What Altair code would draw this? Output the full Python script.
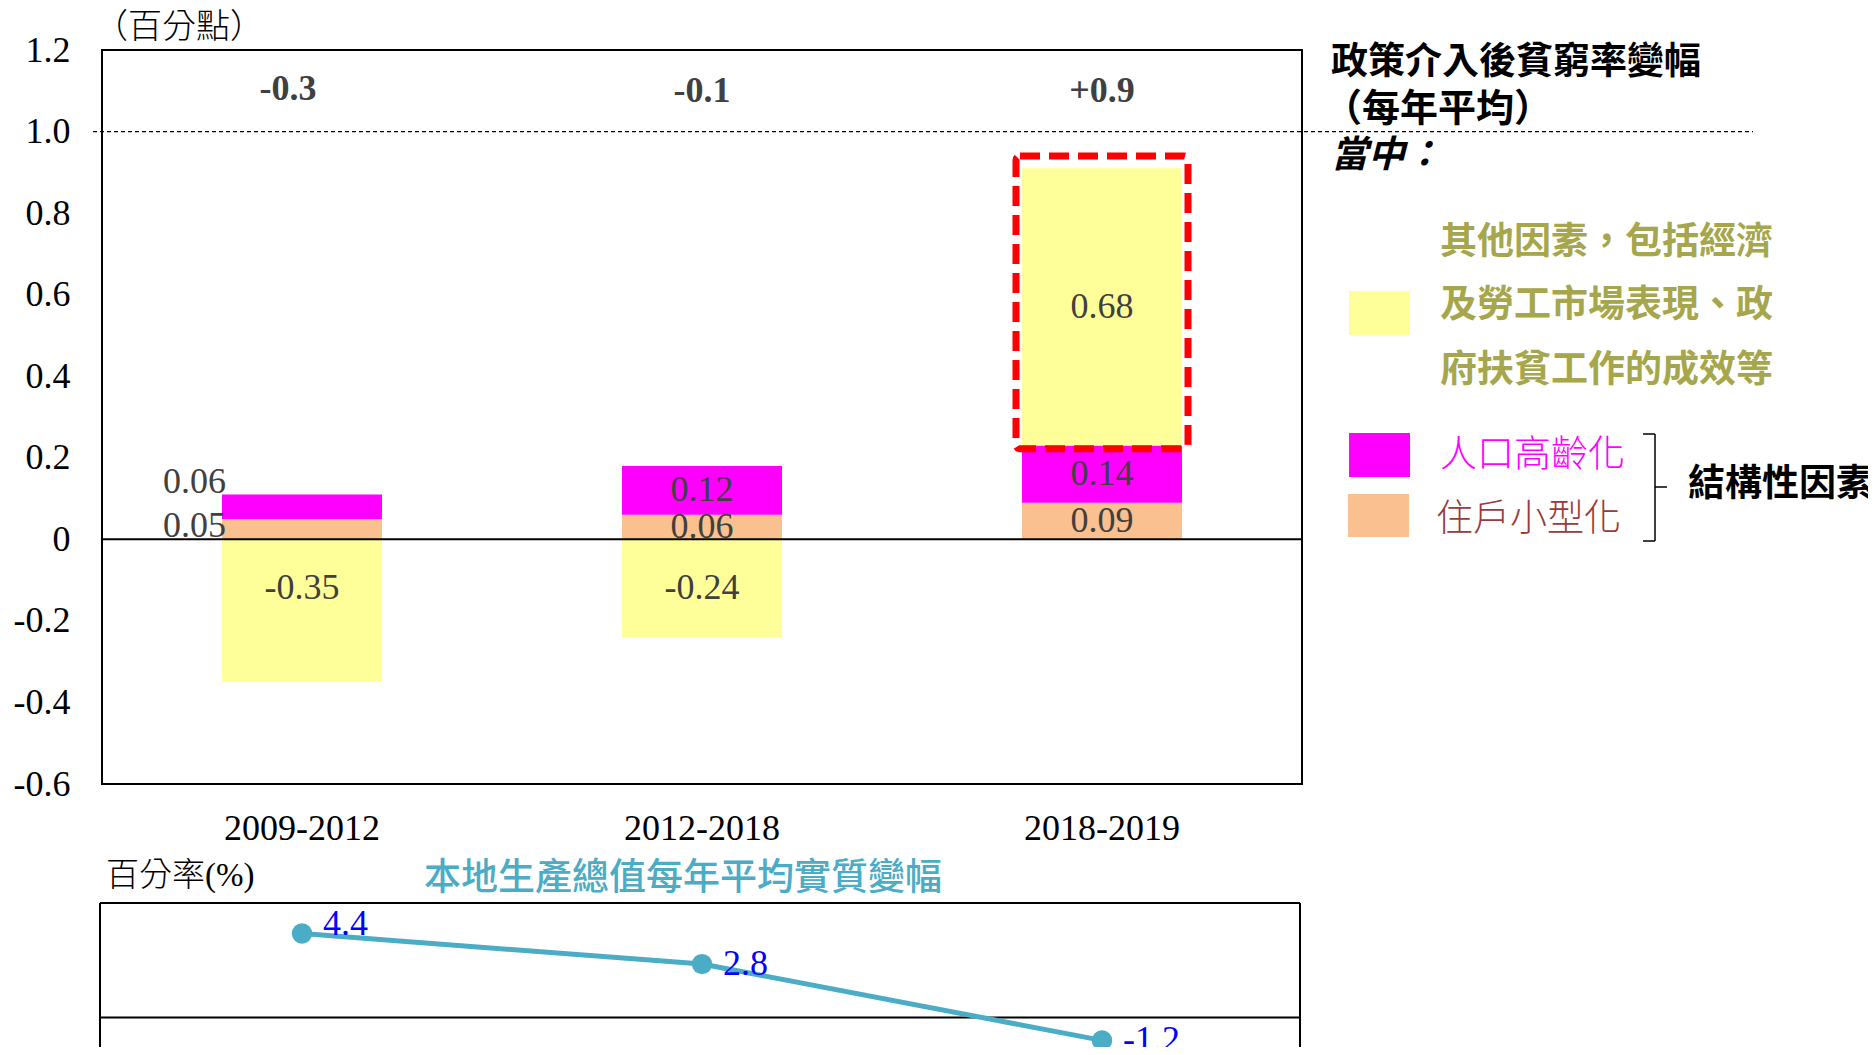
import altair as alt
import pandas as pd

# ---------------- data ----------------
categories = ["2009-2012", "2012-2018", "2018-2019"]
series_names = ["住戶小型化", "人口高齡化", "其他因素"]
household_shrinking = [0.05, 0.06, 0.09]
population_ageing = [0.06, 0.12, 0.14]
other_factors = [-0.35, -0.24, 0.68]
total_change_labels = ["-0.3", "-0.1", "+0.9"]
gdp_growth = [4.4, 2.8, -1.2]
y_ticks = [-0.6, -0.4, -0.2, 0.0, 0.2, 0.4, 0.6, 0.8, 1.0, 1.2]

legend_title_lines = ["政策介入後貧窮率變幅", "（每年平均）"]
legend_among = "當中："
other_legend_lines = ["其他因素，包括經濟", "及勞工市場表現、政", "府扶貧工作的成效等"]
structural_label = "結構性因素"
y_unit = "（百分點）"
gdp_unit = "百分率(%)"
gdp_title = "本地生產總值每年平均實質變幅"

# ---------------- styles ----------------
series_colors = ["#FAC090", "#FF00FF", "#FFFF99"]
OLIVE = "#A6A64C"
BROWN = "#9A3B3B"
TEAL = "#4BACC6"
LABEL_GRAY = "#404040"
SERIF = "Liberation Serif"
CJK = "Noto Sans CJK TC"
MIXED = "Liberation Serif, Noto Sans CJK TC"

W, H = 1200, 734

# ---------------- tables ----------------
rows = []
for i, c in enumerate(categories):
    pos, neg = 0.0, 0.0
    for k, vals in enumerate([household_shrinking, population_ageing, other_factors]):
        v = vals[i]
        if v >= 0:
            y0, y1 = pos, pos + v
            pos = y1
        else:
            y0, y1 = neg, neg + v
            neg = y1
        mid = (y0 + y1) / 2
        if v < 0:
            mid = max(mid, -0.12)
        rows.append(dict(category=c, series=series_names[k], order=k, value=v,
                         y0=y0, y1=y1, ly=mid, label=f"{v:.2f}",
                         outside=int(i == 0 and v > 0)))
stack_df = pd.DataFrame(rows)
totals_df = pd.DataFrame({"category": categories, "label": total_change_labels,
                          "idx": list(range(len(categories)))})
gdp_df = pd.DataFrame({"category": categories, "gdp": gdp_growth,
                       "label": [f"{g:.1f}" for g in gdp_growth],
                       "idx": list(range(len(categories)))})
one = pd.DataFrame({"a": [0]})

x_enc = alt.X(
    "category:N", sort=categories,
    scale=alt.Scale(domain=categories, paddingInner=0.6, paddingOuter=0.3),
    axis=alt.Axis(title=None, labelAngle=0, labelFont=SERIF, labelFontSize=36,
                  labelColor="black", ticks=False, domain=False,
                  labelPadding=44, labelBaseline="middle"),
)
main_scale = alt.Scale(domain=[-0.6, 1.2], nice=False, zero=False)
gdp_scale = alt.Scale(domain=[-6, 6], range=[1082, 853], nice=False, zero=False)
y_axis = alt.Axis(
    values=y_ticks, title=None, grid=False, ticks=False, domain=False,
    labelFont=SERIF, labelFontSize=36, labelColor="black", labelPadding=32,
    labelExpr="datum.value == 0 ? '0' : (datum.value < 0 ? '-' : '') + format(abs(datum.value), '.1f')",
)


def ym(field):
    return alt.Y(field, scale=main_scale, axis=None)


def yg(field):
    return alt.Y(field, scale=gdp_scale, axis=None)


bars = alt.Chart(stack_df).mark_bar().encode(
    x=x_enc,
    y=alt.Y("y0:Q", scale=main_scale, axis=y_axis),
    y2="y1:Q",
    color=alt.Color("series:N", scale=alt.Scale(domain=series_names, range=series_colors), legend=None),
)

inside_labels = alt.Chart(stack_df).transform_filter("datum.outside == 0").mark_text(
    font=SERIF, fontSize=36, color=LABEL_GRAY, baseline="middle"
).encode(x=x_enc, y=ym("ly:Q"), text="label:N")

outside_low = alt.Chart(stack_df).transform_filter("datum.outside == 1 && datum.order == 0").mark_text(
    font=SERIF, fontSize=36, color=LABEL_GRAY, baseline="middle", align="right", dx=-76, dy=-3
).encode(x=x_enc, y=ym("ly:Q"), text="label:N")

outside_high = alt.Chart(stack_df).transform_filter("datum.outside == 1 && datum.order == 1").mark_text(
    font=SERIF, fontSize=36, color=LABEL_GRAY, baseline="middle", align="right", dx=-76, dy=-25
).encode(x=x_enc, y=ym("ly:Q"), text="label:N")

highlight = alt.Chart(stack_df).transform_filter(
    f"datum.category == '{categories[2]}' && datum.order == 2"
).transform_calculate(lo="datum.y0 - 0.008", hi="datum.y1 + 0.03").mark_bar(
    size=172, fillOpacity=0, stroke="#FF0000", strokeWidth=7, strokeDash=[20, 9], cornerRadius=4
).encode(x=x_enc, y=ym("lo:Q"), y2="hi:Q")

totals_first = alt.Chart(totals_df).transform_filter("datum.idx == 0").transform_calculate(ty="1.1").mark_text(
    font=SERIF, fontSize=36, fontWeight="bold", color=LABEL_GRAY, baseline="middle", dx=-14, dy=-2
).encode(x=x_enc, y=ym("ty:Q"), text="label:N")
totals_rest = alt.Chart(totals_df).transform_filter("datum.idx > 0").transform_calculate(ty="1.1").mark_text(
    font=SERIF, fontSize=36, fontWeight="bold", color=LABEL_GRAY, baseline="middle"
).encode(x=x_enc, y=ym("ty:Q"), text="label:N")

ref_line = alt.Chart(one).transform_calculate(ry="1.0").mark_rule(
    strokeDash=[4, 3], strokeWidth=1.2, color="black"
).encode(y=ym("ry:Q"), x=alt.value(-9), x2=alt.value(1651))
zero_line = alt.Chart(one).transform_calculate(ry="0").mark_rule(strokeWidth=2, color="black").encode(
    y=ym("ry:Q"), x=alt.value(0), x2=alt.value(W))


def txt(text, x, y, size=37, color="black", weight="normal", style="normal", font=CJK, align="left"):
    return alt.Chart(one).mark_text(
        text=text, font=font, fontSize=size, color=color, fontWeight=weight,
        fontStyle=style, align=align, baseline="middle"
    ).encode(x=alt.value(x), y=alt.value(y))


def box(x, x2, y, y2, color):
    return alt.Chart(one).mark_rect(color=color).encode(
        x=alt.value(x), x2=alt.value(x2), y=alt.value(y), y2=alt.value(y2))


def seg(x, x2, y, y2, width=1.5):
    return alt.Chart(one).mark_rule(color="black", strokeWidth=width).encode(
        x=alt.value(x), x2=alt.value(x2), y=alt.value(y), y2=alt.value(y2))


annotations = [
    txt(y_unit, -8, -22, size=34, weight=300, font=CJK),
    txt(legend_title_lines[0], 1229, 13, weight="bold"),
    txt(legend_title_lines[1], 1222, 60, weight="bold", size=38),
    txt(legend_among, 1229, 106, weight="bold", style="italic"),
    txt(other_legend_lines[0], 1338, 193, color=OLIVE, weight="bold"),
    txt(other_legend_lines[1], 1338, 256, color=OLIVE, weight="bold"),
    txt(other_legend_lines[2], 1338, 321, color=OLIVE, weight="bold"),
    box(1247, 1308, 241, 285, series_colors[2]),
    box(1247, 1308, 383, 427, series_colors[1]),
    box(1246, 1307, 444, 487, series_colors[0]),
    txt(series_names[1], 1338, 406, color=series_colors[1], weight=300),
    txt(series_names[0], 1334, 470, color=BROWN, weight=300),
    seg(1541, 1553, 384, 384),
    seg(1553, 1553, 384, 491),
    seg(1541, 1553, 491, 491),
    seg(1553, 1565, 437, 437),
    txt(structural_label, 1586, 435, weight="bold"),
    txt(gdp_unit, 4, 826, size=33, font=MIXED, weight=300),
    txt(gdp_title, 322, 829, size=37, color=TEAL, weight=500),
]

# ---------------- lower GDP panel ----------------
gdp_top = alt.Chart(one).transform_calculate(gy="6").mark_rule(color="black", strokeWidth=2).encode(
    x=alt.value(-2), x2=alt.value(W - 2), y=yg("gy:Q"))
gdp_zero = alt.Chart(one).transform_calculate(gy="0").mark_rule(color="black", strokeWidth=2).encode(
    x=alt.value(-2), x2=alt.value(W - 2), y=yg("gy:Q"))
gdp_left = alt.Chart(one).transform_calculate(gy="6", gy2="-6").mark_rule(color="black", strokeWidth=2).encode(
    x=alt.value(-2), y=yg("gy:Q"), y2="gy2:Q")
gdp_right = alt.Chart(one).transform_calculate(gy="6", gy2="-6").mark_rule(color="black", strokeWidth=2).encode(
    x=alt.value(W - 2), y=yg("gy:Q"), y2="gy2:Q")
gdp_line = alt.Chart(gdp_df).mark_line(color=TEAL, strokeWidth=5).encode(x=x_enc, y=yg("gdp:Q"))
gdp_points = alt.Chart(gdp_df).mark_circle(size=415, color=TEAL, opacity=1).encode(x=x_enc, y=yg("gdp:Q"))
gdp_label_first = alt.Chart(gdp_df).transform_filter("datum.idx == 0").mark_text(
    font=SERIF, fontSize=36, color="#0000FF", align="left", baseline="middle", dx=21, dy=-10
).encode(x=x_enc, y=yg("gdp:Q"), text="label:N")
gdp_label_rest = alt.Chart(gdp_df).transform_filter("datum.idx > 0").mark_text(
    font=SERIF, fontSize=36, color="#0000FF", align="left", baseline="middle", dx=21, dy=0
).encode(x=x_enc, y=yg("gdp:Q"), text="label:N")

chart = alt.layer(
    bars, highlight, inside_labels, outside_low, outside_high, totals_first, totals_rest,
    ref_line, zero_line,
    gdp_top, gdp_zero, gdp_left, gdp_right, gdp_line, gdp_points, gdp_label_first, gdp_label_rest,
    *annotations,
).resolve_scale(y="independent").properties(
    width=W, height=H,
    autosize=alt.AutoSizeParams(type="none"),
    padding={"left": 94, "top": 42, "right": 566, "bottom": 263},
).configure_view(stroke="black", strokeWidth=2)

chart.save("out.html", embed_options={"renderer": "svg", "actions": False})
